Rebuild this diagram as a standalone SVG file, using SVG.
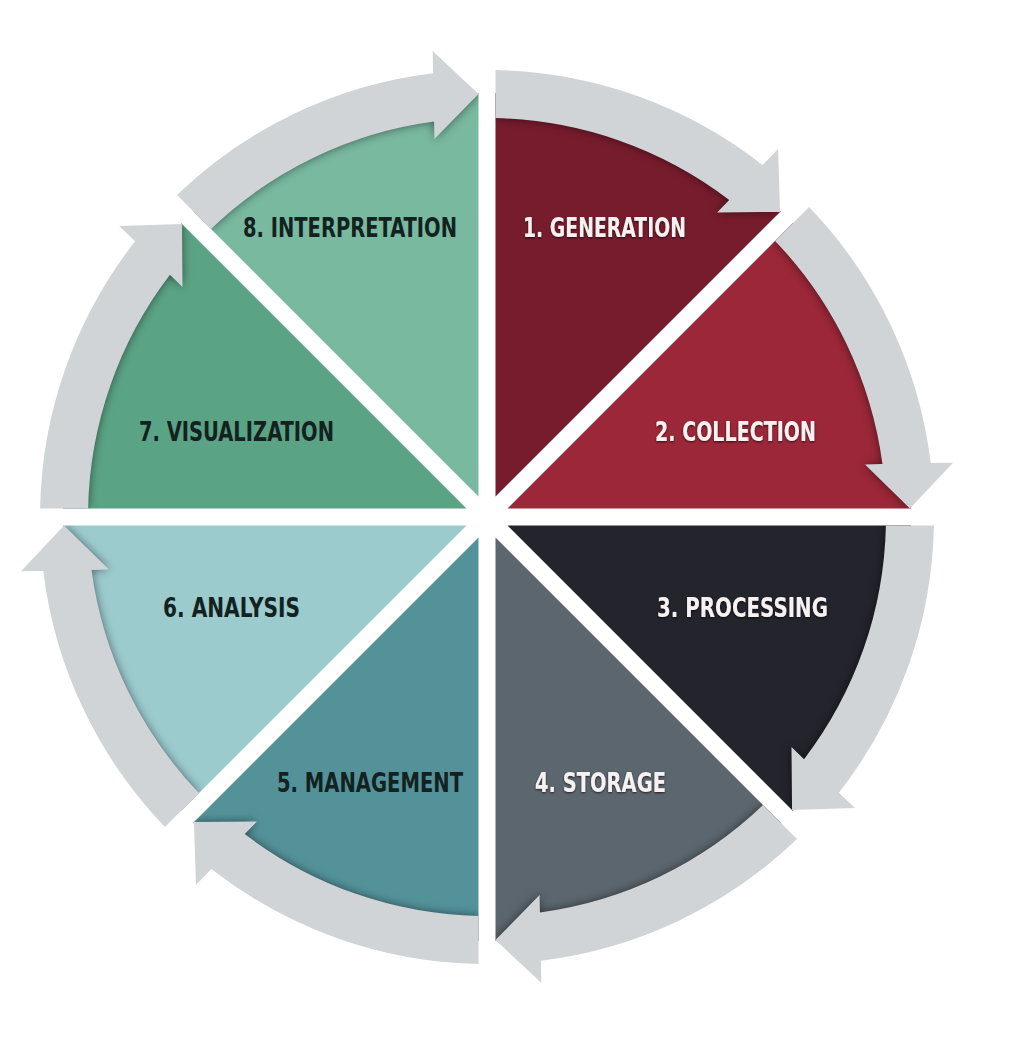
<svg xmlns="http://www.w3.org/2000/svg" width="1016" height="1038" viewBox="0 0 1016 1038">
  <defs>
    <style>
      .label{font-family:"DejaVu Sans Condensed","Liberation Sans Narrow","Liberation Sans",sans-serif;font-weight:bold;font-size:26px;}
      .light{fill:#f7f2f1;filter:url(#emboss);}
      .dark{fill:#13221f;}
      .arrow{fill:#d1d4d7;}
      .shade{fill:#000;opacity:0.5;filter:url(#blur);}
    </style>
    <!-- one 45-degree slice, local coords centred on the hub, starting at 12 o'clock -->
    <path id="wedge" d="M8.5,-20.52 L8.5,-423.91 A424,424 0 0 1 293.74,-305.76 Z"/>
    <!-- curved clockwise arrow lying over the rim of a slice -->
    <path id="band" d="M8.5,-446.92 A447,447 0 0 1 275.65,-351.89 L291.08,-367.95 L293.05,-305.04 L230.12,-304.49 L242.21,-317.07 A399,399 0 0 0 8.5,-398.91 Z"/>
    <clipPath id="wedgeClip"><use href="#wedge"/></clipPath>
    <filter id="blur" x="-20%" y="-20%" width="140%" height="140%">
      <feGaussianBlur stdDeviation="5"/>
    </filter>
    <filter id="emboss" x="-10%" y="-30%" width="120%" height="160%">
      <feDropShadow dx="0" dy="1" stdDeviation="1.2" flood-color="#000" flood-opacity="0.7"/>
    </filter>
  </defs>

  <rect width="1016" height="1038" fill="#fff"/>

  <g id="sectors">
    <g id="generation">
      <use href="#wedge" transform="translate(487 517)" fill="#771c2d"/>
      <text class="label light" x="523" y="237" textLength="163" lengthAdjust="spacingAndGlyphs">1. GENERATION</text>
    </g>
    <g id="collection">
      <use href="#wedge" transform="translate(487 517) rotate(45)" fill="#9b2738"/>
      <text class="label light" x="655" y="441" textLength="161" lengthAdjust="spacingAndGlyphs">2. COLLECTION</text>
    </g>
    <g id="processing">
      <use href="#wedge" transform="translate(487 517) rotate(90)" fill="#23242c"/>
      <text class="label light" x="657" y="617" textLength="171" lengthAdjust="spacingAndGlyphs">3. PROCESSING</text>
    </g>
    <g id="storage">
      <use href="#wedge" transform="translate(487 517) rotate(135)" fill="#5c666e"/>
      <text class="label light" x="535" y="792" textLength="131" lengthAdjust="spacingAndGlyphs">4. STORAGE</text>
    </g>
    <g id="management">
      <use href="#wedge" transform="translate(487 517) rotate(180)" fill="#54929a"/>
      <text class="label dark" x="277" y="792" textLength="186" lengthAdjust="spacingAndGlyphs">5. MANAGEMENT</text>
    </g>
    <g id="analysis">
      <use href="#wedge" transform="translate(487 517) rotate(225)" fill="#9ccbce"/>
      <text class="label dark" x="163" y="617" textLength="137" lengthAdjust="spacingAndGlyphs">6. ANALYSIS</text>
    </g>
    <g id="visualization">
      <use href="#wedge" transform="translate(487 517) rotate(270)" fill="#5ba385"/>
      <text class="label dark" x="139" y="441" textLength="195" lengthAdjust="spacingAndGlyphs">7. VISUALIZATION</text>
    </g>
    <g id="interpretation">
      <use href="#wedge" transform="translate(487 517) rotate(315)" fill="#79b9a0"/>
      <text class="label dark" x="243" y="237" textLength="214" lengthAdjust="spacingAndGlyphs">8. INTERPRETATION</text>
    </g>
  </g>

  <g id="connectors">
    <g id="arrow-1-2" transform="translate(487 517)">
      <g clip-path="url(#wedgeClip)"><use href="#band" class="shade"/></g>
      <use href="#band" class="arrow"/>
    </g>
    <g id="arrow-2-3" transform="translate(487 517) rotate(45)">
      <g clip-path="url(#wedgeClip)"><use href="#band" class="shade"/></g>
      <use href="#band" class="arrow"/>
    </g>
    <g id="arrow-3-4" transform="translate(487 517) rotate(90)">
      <g clip-path="url(#wedgeClip)"><use href="#band" class="shade"/></g>
      <use href="#band" class="arrow"/>
    </g>
    <g id="arrow-4-5" transform="translate(487 517) rotate(135)">
      <g clip-path="url(#wedgeClip)"><use href="#band" class="shade"/></g>
      <use href="#band" class="arrow"/>
    </g>
    <g id="arrow-5-6" transform="translate(487 517) rotate(180)">
      <g clip-path="url(#wedgeClip)"><use href="#band" class="shade"/></g>
      <use href="#band" class="arrow"/>
    </g>
    <g id="arrow-6-7" transform="translate(487 517) rotate(225)">
      <g clip-path="url(#wedgeClip)"><use href="#band" class="shade"/></g>
      <use href="#band" class="arrow"/>
    </g>
    <g id="arrow-7-8" transform="translate(487 517) rotate(270)">
      <g clip-path="url(#wedgeClip)"><use href="#band" class="shade"/></g>
      <use href="#band" class="arrow"/>
    </g>
    <g id="arrow-8-1" transform="translate(487 517) rotate(315)">
      <g clip-path="url(#wedgeClip)"><use href="#band" class="shade"/></g>
      <use href="#band" class="arrow"/>
    </g>
  </g>
</svg>
